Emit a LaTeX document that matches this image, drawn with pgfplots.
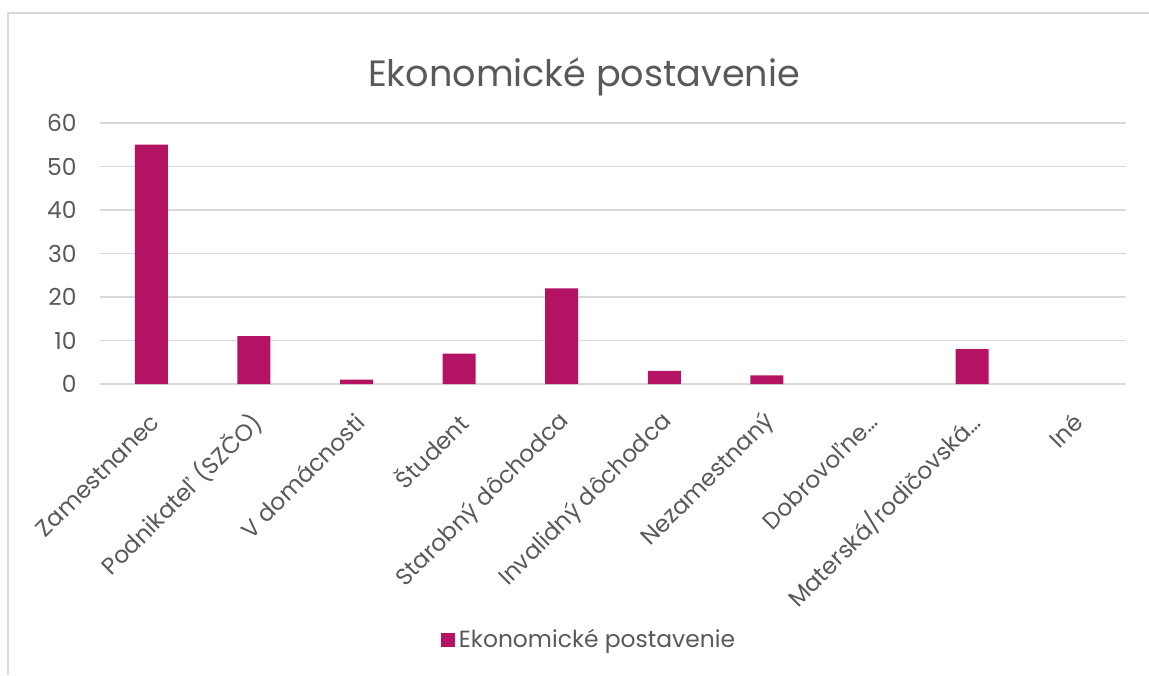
\documentclass[border=0pt]{standalone}
\usepackage{pgfplots}
\pgfplotsset{compat=1.18}
\usepackage{fontspec}
\setmainfont{Poppins}
\definecolor{barc}{RGB}{180,18,98}
\definecolor{txt}{RGB}{89,89,89}
\definecolor{grd}{RGB}{217,217,217}
\begin{document}
\begin{tikzpicture}
\path[use as bounding box] (0pt,0pt) rectangle (574.5pt,337.5pt);
\draw[grd, line width=0.75pt] (4pt,0pt) -- (4pt,331pt) -- (574.5pt,331pt);
\node[anchor=base, text=txt, inner sep=0pt, font=\fontsize{18.3}{21}\selectfont] at (292pt,294pt) {Ekonomické postavenie};
\begin{axis}[
  at={(50pt,145.5pt)}, anchor=south west, scale only axis,
  width=513pt, height=130.5pt,
  xmin=-0.5, xmax=9.5, ymin=0, ymax=60,
  ytick={0,10,...,60},
  xtick={0,...,9},
  xticklabels={Zamestnanec, Podnikateľ (SZČO), V domácnosti, Študent, Starobný dôchodca, Invalidný dôchodca, Nezamestnaný, Dobrovoľne…, Materská/rodičovská…, Iné},
  axis line style={draw=none},
  major tick length=0pt,
  ymajorgrids, grid style={grd, line width=0.75pt},
  /pgf/number format/assume math mode=true,
  ticklabel style={text=txt, font=\fontsize{11.7}{13}\selectfont},
  yticklabel style={anchor=east, inner sep=0pt, xshift=-11.5pt},
  xticklabel style={xshift=2pt, yshift=-17pt, rotate=45, anchor=east, inner sep=0pt},
  ybar, bar width=16.5pt,
  legend style={draw=none, fill=none, at={(0.4776,-0.981)}, anchor=center,
    font=\fontsize{11.7}{13}\selectfont, text=txt},
  legend image code/.code={\fill[barc] (0pt,-3.5pt) rectangle (7pt,3.5pt);},
  unbounded coords=discard,
]
\addplot[fill=barc, draw=none, y filter/.expression={y==0 ? nan : y}] coordinates {(0,55) (1,11) (2,1) (3,7) (4,22) (5,3) (6,2) (7,0) (8,8) (9,0)};
\addlegendentry{Ekonomické postavenie}
\end{axis}
\end{tikzpicture}
\end{document}
